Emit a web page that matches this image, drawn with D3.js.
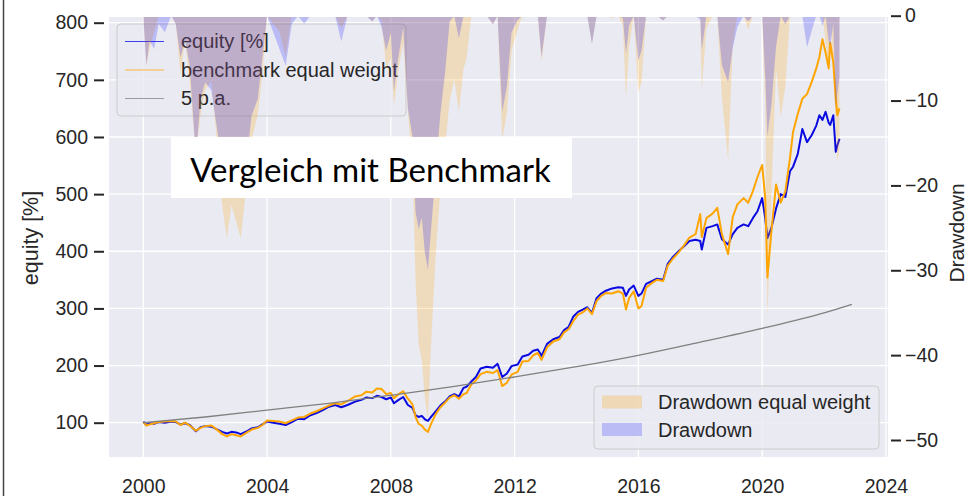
<!DOCTYPE html>
<html>
<head>
<meta charset="utf-8">
<script src="https://cdn.jsdelivr.net/npm/d3@7"></script>
<style>
  html, body { margin: 0; padding: 0; background: #fff; }
  svg { display: block; }
  text { font-family: "Liberation Sans", Arial, sans-serif; fill: #262626; }
</style>
</head>
<body>
<svg id="chart"></svg>
<script>
const width = 969;
const height = 496;

// decimal years
const years = [
  2000.00, 2000.10, 2000.20, 2000.35, 2000.50, 2000.70, 2000.90, 2001.05, 2001.20, 2001.35,
  2001.50, 2001.70, 2001.85, 2002.00, 2002.20, 2002.40, 2002.55, 2002.70, 2002.85, 2003.00,
  2003.15, 2003.35, 2003.50, 2003.70, 2003.85, 2004.00, 2004.20, 2004.40, 2004.60, 2004.80,
  2005.00, 2005.20, 2005.40, 2005.60, 2005.80, 2006.00, 2006.20, 2006.40, 2006.60, 2006.85,
  2007.05, 2007.20, 2007.40, 2007.55, 2007.70, 2007.85, 2008.00, 2008.10, 2008.25, 2008.40,
  2008.55, 2008.70, 2008.80, 2008.90, 2009.00, 2009.10, 2009.20, 2009.30, 2009.45, 2009.60,
  2009.75, 2009.90, 2010.05, 2010.20, 2010.35, 2010.45, 2010.60, 2010.75, 2010.90, 2011.10,
  2011.30, 2011.45, 2011.60, 2011.75, 2011.90, 2012.10, 2012.25, 2012.45, 2012.60, 2012.75,
  2012.87, 2013.05, 2013.25, 2013.45, 2013.60, 2013.75, 2013.90, 2014.05, 2014.20, 2014.35,
  2014.50, 2014.65, 2014.80, 2014.95, 2015.15, 2015.35, 2015.50, 2015.60, 2015.70, 2015.85,
  2016.00, 2016.10, 2016.25, 2016.45, 2016.60, 2016.80, 2016.95, 2017.10, 2017.30, 2017.50,
  2017.65, 2017.85, 2018.00, 2018.05, 2018.20, 2018.40, 2018.55, 2018.70, 2018.90, 2019.05,
  2019.20, 2019.40, 2019.55, 2019.70, 2019.85, 2020.00, 2020.10, 2020.17, 2020.30, 2020.45,
  2020.60, 2020.75, 2020.90, 2021.00, 2021.15, 2021.30, 2021.45, 2021.60, 2021.75, 2021.85,
  2021.95, 2022.05, 2022.15, 2022.20, 2022.30, 2022.38, 2022.43, 2022.50
];

const equity = [
  102, 96, 99, 98, 101, 100, 102, 101, 97, 99,
  96, 85, 92, 94, 93, 88, 84, 81, 84, 83,
  80, 85, 90, 92, 97, 102, 100, 98, 96, 101,
  107, 106, 113, 117, 122, 128, 131, 127, 131, 137,
  140, 144, 143, 147, 145, 141, 144, 134, 140, 145,
  131, 126, 113, 110, 112, 106, 103, 110, 120, 130,
  137, 146, 150, 146, 161, 163, 172, 180, 195, 198,
  196, 203, 180, 186, 199, 202, 216, 219, 226, 228,
  217, 238, 246, 250, 262, 268, 286, 294, 298, 302,
  292, 318, 326, 331, 335, 337, 336, 322, 333, 340,
  322, 326, 343, 348, 352, 350, 378, 389, 400, 410,
  418, 420, 418, 403, 441, 444, 447, 421, 412, 430,
  441, 447, 444, 458, 470, 493, 458, 423, 441, 475,
  500, 495, 540, 548, 570, 614, 591, 603, 620, 638,
  630, 644, 625, 621, 638, 574, 585, 597
];

const benchmark = [
  101, 95, 97, 99, 101, 102, 103, 102, 96, 100,
  95, 86, 91, 94, 95, 87, 80, 76, 80, 78,
  76, 83, 88, 91, 96, 104, 103, 102, 99, 104,
  109, 110, 116, 120, 125, 130, 134, 132, 138, 146,
  148, 154, 153, 160, 159, 150, 152, 143, 150, 155,
  142, 132, 110, 98, 95, 88, 84, 98, 115, 127,
  135, 144, 148, 142, 150, 152, 167, 174, 185, 189,
  187, 192, 164, 170, 184, 189, 207, 208, 218, 222,
  210, 232, 242, 246, 258, 264, 278, 289, 293, 300,
  290, 313, 322, 327, 326, 330, 326, 298, 318, 330,
  300, 304, 336, 345, 350, 348, 375, 386, 398, 412,
  424, 430, 465, 425, 458, 466, 476, 430, 395, 460,
  482, 493, 485, 505, 530, 551, 493, 354, 435, 517,
  485, 505, 563, 609, 640, 667, 675, 696, 720, 740,
  771, 748, 720, 765, 730, 667, 638, 650
];

// 5 p.a. reference line, read every two years
const paYears = [2000, 2002, 2004, 2006, 2008, 2010, 2012, 2014, 2016, 2018, 2020, 2022, 2022.9];
const paValues = [100, 110, 122, 134, 148, 163, 180, 198, 218, 241, 265, 292, 307];

const xTicks = [2000, 2004, 2008, 2012, 2016, 2020, 2024];
const leftTicks = [100, 200, 300, 400, 500, 600, 700, 800];
const rightTicks = [0, -10, -20, -30, -40, -50];

const lineLabels = ["equity [%]", "benchmark equal weight", "5 p.a."];
const ddLabels = ["Drawdown equal weight", "Drawdown"];
const title = "Vergleich mit Benchmark";

const plot = { left: 109, right: 888, top: 17, bottom: 457 };

const x = d3.scaleLinear().domain([2000, 2024]).range([143.3, 885.9]);
const yL = d3.scaleLinear().domain([100, 800]).range([422.7, 22.7]);
const yR = d3.scaleLinear().domain([0, -50]).range([15.7, 440]);

const svg = d3.select("#chart").attr("width", width).attr("height", height);

svg.append("rect").attr("width", width).attr("height", height).attr("fill", "#fff");
svg.append("line")
  .attr("x1", 3.5).attr("x2", 3.5).attr("y1", 0).attr("y2", height)
  .attr("stroke", "#444").attr("stroke-width", 1.5);

svg.append("defs").append("clipPath").attr("id", "clip")
  .append("rect")
  .attr("x", plot.left).attr("y", plot.top)
  .attr("width", plot.right - plot.left).attr("height", plot.bottom - plot.top);

svg.append("rect")
  .attr("x", plot.left).attr("y", plot.top)
  .attr("width", plot.right - plot.left).attr("height", plot.bottom - plot.top)
  .attr("fill", "#eaeaf2");

// grid
svg.append("g").selectAll("line").data(leftTicks).enter().append("line")
  .attr("x1", plot.left).attr("x2", plot.right)
  .attr("y1", d => yL(d)).attr("y2", d => yL(d))
  .attr("stroke", "#fff").attr("stroke-width", 1.3);
svg.append("g").selectAll("line").data(xTicks).enter().append("line")
  .attr("x1", d => x(d)).attr("x2", d => x(d))
  .attr("y1", plot.top).attr("y2", plot.bottom)
  .attr("stroke", "#fff").attr("stroke-width", 1.3);

// axes
const axL = svg.append("g").attr("transform", "translate(104,0)")
  .call(d3.axisLeft(yL).tickValues(leftTicks).tickSize(10).tickPadding(6));
const axR = svg.append("g").attr("transform", "translate(891,0)")
  .call(d3.axisRight(yR).tickValues(rightTicks).tickSize(10).tickPadding(4));
const axB = svg.append("g").attr("transform", `translate(0,${plot.bottom})`)
  .call(d3.axisBottom(x).tickValues(xTicks).tickFormat(d3.format("d")).tickSize(0).tickPadding(22));

[axL, axR, axB].forEach(ax => {
  ax.select(".domain").remove();
  ax.selectAll(".tick line").attr("stroke", "#262626").attr("stroke-width", 2);
  ax.selectAll(".tick text")
    .attr("font-family", "Liberation Sans, Arial, sans-serif")
    .attr("font-size", 19.5).attr("fill", "#262626");
});

svg.append("text")
  .attr("transform", "translate(38,238) rotate(-90)")
  .attr("text-anchor", "middle").attr("font-size", 21.5)
  .text("equity [%]");
svg.append("text")
  .attr("transform", "translate(963.5,233) rotate(-90)")
  .attr("text-anchor", "middle").attr("font-size", 21)
  .text("Drawdown");

// lines
const pts = (xs, vs) => xs.map((d, i) => ({ t: d, v: vs[i] }));
const line = d3.line().x(d => x(d.t)).y(d => yL(d.v));
const linesG = svg.append("g").attr("clip-path", "url(#clip)");

linesG.append("path").datum(pts(years, equity))
  .attr("d", line).attr("fill", "none")
  .attr("stroke", "#0a0ae0").attr("stroke-width", 2).attr("stroke-linejoin", "round");
linesG.append("path").datum(pts(years, benchmark))
  .attr("d", line).attr("fill", "none")
  .attr("stroke", "#ffa500").attr("stroke-width", 2).attr("stroke-linejoin", "round");
linesG.append("path").datum(pts(paYears, paValues))
  .attr("d", line.curve(d3.curveMonotoneX)).attr("fill", "none")
  .attr("stroke", "#808080").attr("stroke-width", 1.3);

// upper legend
const lg = svg.append("g");
lg.append("rect")
  .attr("x", 117).attr("y", 24).attr("width", 289).attr("height", 92).attr("rx", 4)
  .attr("fill", "#eaeaf2").attr("fill-opacity", 0.8)
  .attr("stroke", "#cccccc").attr("stroke-width", 1);
const lineColors = ["#0000ee", "#ffa500", "#808080"];
lineLabels.forEach((lab, i) => {
  const yy = 41.5 + i * 28.5;
  lg.append("line").attr("x1", 125).attr("x2", 164).attr("y1", yy).attr("y2", yy)
    .attr("stroke", lineColors[i]).attr("stroke-width", 1.2).attr("stroke-opacity", 0.75);
  lg.append("text").attr("x", 181).attr("y", yy + 6.5)
    .attr("font-size", 20).text(lab);
});

// drawdowns from the series
const drawdown = vs => {
  let peak = -Infinity;
  return vs.map(v => { peak = Math.max(peak, v); return (v / peak - 1) * 100; });
};
const area = d3.area().x(d => x(d.t)).y0(yR(0)).y1(d => yR(d.v));
const ddG = svg.append("g").attr("clip-path", "url(#clip)");
ddG.append("path").datum(pts(years, drawdown(benchmark)))
  .attr("d", area).attr("fill", "#ffa500").attr("fill-opacity", 0.22);
ddG.append("path").datum(pts(years, drawdown(equity)))
  .attr("d", area).attr("fill", "#0000ff").attr("fill-opacity", 0.2);

// lower legend
const lg2 = svg.append("g");
lg2.append("rect")
  .attr("x", 594).attr("y", 386).attr("width", 285).attr("height", 63).attr("rx", 4)
  .attr("fill", "#eaeaf2").attr("fill-opacity", 0.8)
  .attr("stroke", "#cccccc").attr("stroke-width", 1);
const ddColors = [["#ffa500", 0.25], ["#0000ff", 0.2]];
ddLabels.forEach((lab, i) => {
  const yy = 395.5 + i * 27.5;
  lg2.append("rect").attr("x", 602).attr("y", yy).attr("width", 40).attr("height", 13)
    .attr("fill", ddColors[i][0]).attr("fill-opacity", ddColors[i][1]);
  lg2.append("text").attr("x", 658).attr("y", yy + 13.5)
    .attr("font-size", 20).text(lab);
});

// title box
svg.append("rect")
  .attr("x", 171).attr("y", 137).attr("width", 401).attr("height", 61).attr("fill", "#fff");
svg.append("text")
  .attr("x", 370.5).attr("y", 182).attr("text-anchor", "middle")
  .attr("font-family", "Lato, sans-serif").attr("font-size", 33).attr("fill", "#000")
  .style("font-family", "Lato, sans-serif").style("fill", "#000")
  .text(title);
</script>
</body>
</html>
